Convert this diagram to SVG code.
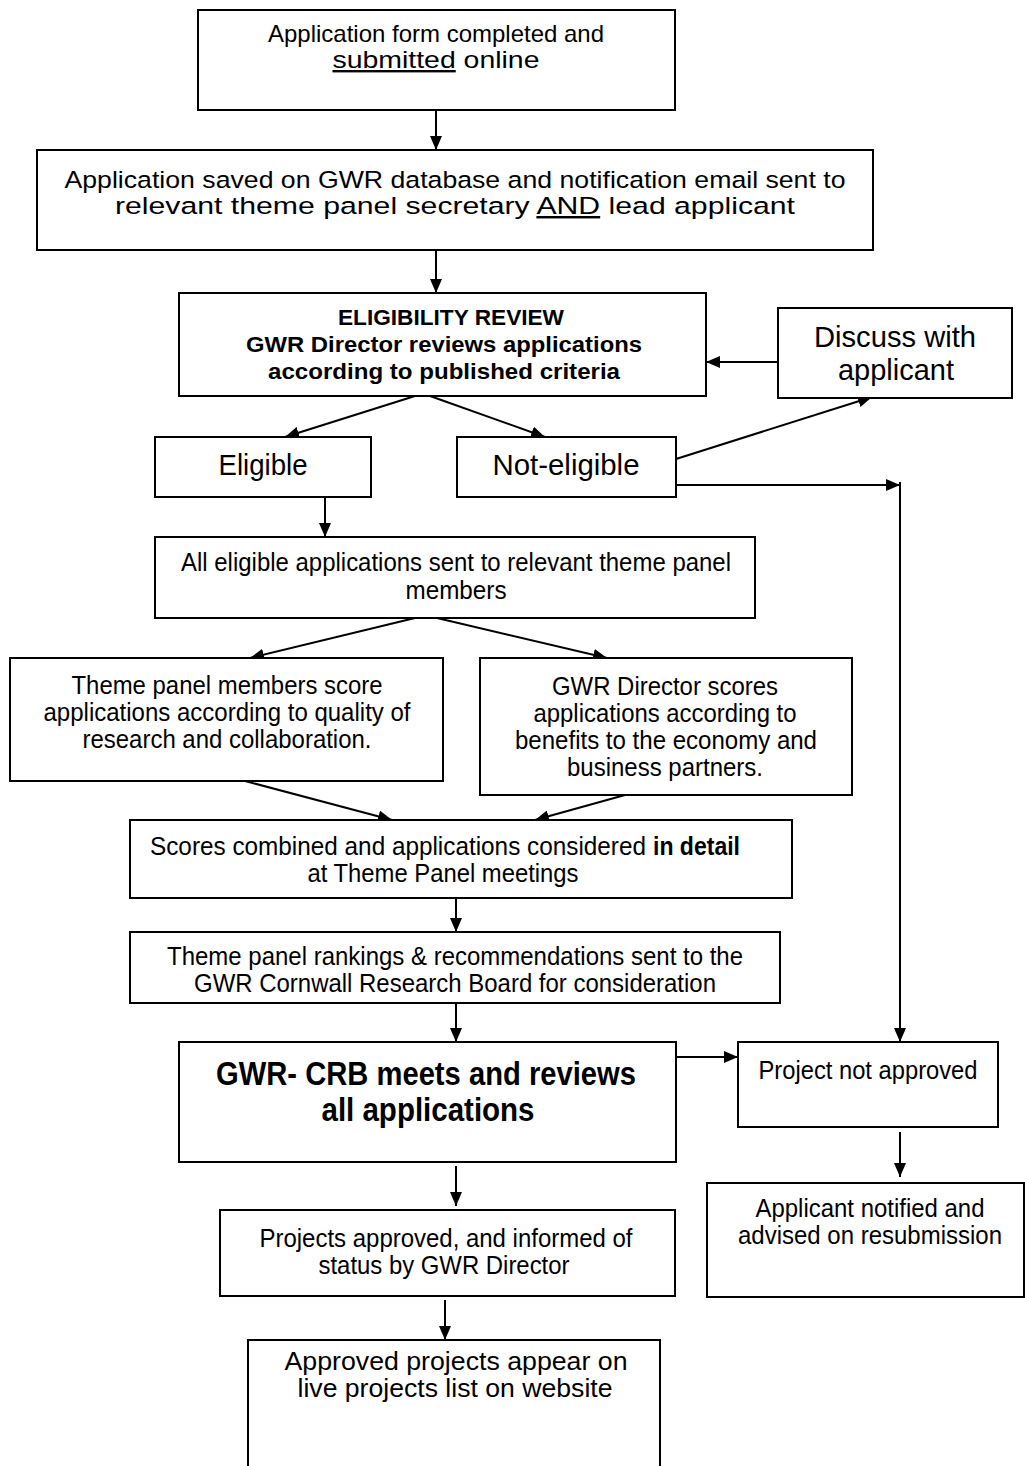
<svg xmlns="http://www.w3.org/2000/svg" width="1025" height="1466" viewBox="0 0 1025 1466">
<style>
.box{fill:#fff;stroke:#000;stroke-width:2}
.t{font-family:"Liberation Sans",Arial,sans-serif;fill:#000;text-anchor:middle}
.s{font-family:"Liberation Sans",Arial,sans-serif;fill:#000;text-anchor:start}
.b{font-weight:bold}
.c{stroke:#000;stroke-width:2;fill:none;marker-end:url(#ah)}
</style>
<defs>
<marker id="ah" viewBox="0 0 14 12" refX="14" refY="6" markerWidth="14" markerHeight="12" markerUnits="userSpaceOnUse" orient="auto"><path d="M0,0 L14,6 L0,12 z" fill="#000"/></marker>
</defs>
<rect width="1025" height="1466" fill="#fff"/>
<g id="connectors">
<path class="c" d="M436,110 L436,150"/>
<path class="c" d="M436,250 L436,293"/>
<path class="c" d="M778,362 L706,362"/>
<path class="c" d="M415,396 L285,437"/>
<path class="c" d="M430,396 L545,437"/>
<path class="c" d="M676,459 L872,397"/>
<path class="c" d="M676,485 L900,485"/>
<path class="c" d="M900,482 L900,1042"/>
<path class="c" d="M325,497 L325,537"/>
<path class="c" d="M415,618 L250,658"/>
<path class="c" d="M437,618 L607,658"/>
<path class="c" d="M245,781 L392,820"/>
<path class="c" d="M625,795 L535,820"/>
<path class="c" d="M456,886 L456,932"/>
<path class="c" d="M456,1003 L456,1042"/>
<path class="c" d="M676,1057 L738,1057"/>
<path class="c" d="M900,1132 L900,1177"/>
<path class="c" d="M456,1166 L456,1206"/>
<path class="c" d="M445,1300 L445,1340"/>
</g>
<g id="n1"><rect class="box" x="198" y="10" width="477" height="100"/>
<text class="t" font-size="24" x="436" y="42" textLength="336" lengthAdjust="spacingAndGlyphs">Application form completed and</text>
<text class="t" font-size="24" x="436" y="68" textLength="207" lengthAdjust="spacingAndGlyphs"><tspan text-decoration="underline">submitted</tspan> online</text></g>
<g id="n2"><rect class="box" x="37" y="150" width="836" height="100"/>
<text class="t" font-size="24.5" x="455" y="188" textLength="781" lengthAdjust="spacingAndGlyphs">Application saved on GWR database and notification email sent to</text>
<text class="t" font-size="24.5" x="455" y="214" textLength="680" lengthAdjust="spacingAndGlyphs">relevant theme panel secretary <tspan text-decoration="underline">AND</tspan> lead applicant</text></g>
<g id="n3"><rect class="box" x="179" y="293" width="527" height="103"/>
<text class="t b" font-size="22" x="451" y="325" textLength="226" lengthAdjust="spacingAndGlyphs">ELIGIBILITY REVIEW</text>
<text class="t b" font-size="22" x="444" y="352" textLength="396" lengthAdjust="spacingAndGlyphs">GWR Director reviews applications</text>
<text class="t b" font-size="22" x="444" y="379" textLength="352" lengthAdjust="spacingAndGlyphs">according to published criteria</text></g>
<g id="n4"><rect class="box" x="778" y="308" width="234" height="90"/>
<text class="t" font-size="29" x="895" y="347" textLength="162" lengthAdjust="spacingAndGlyphs">Discuss with</text>
<text class="t" font-size="29" x="896" y="380" textLength="116" lengthAdjust="spacingAndGlyphs">applicant</text></g>
<g id="n5"><rect class="box" x="155" y="437" width="216" height="60"/>
<text class="t" font-size="29" x="263" y="475" textLength="89" lengthAdjust="spacingAndGlyphs">Eligible</text></g>
<g id="n6"><rect class="box" x="457" y="437" width="219" height="60"/>
<text class="t" font-size="29" x="566" y="475" textLength="147" lengthAdjust="spacingAndGlyphs">Not-eligible</text></g>
<g id="n7"><rect class="box" x="155" y="537" width="600" height="81"/>
<text class="t" font-size="25" x="456" y="571" textLength="550" lengthAdjust="spacingAndGlyphs">All eligible applications sent to relevant theme panel</text>
<text class="t" font-size="25" x="456" y="599" textLength="101" lengthAdjust="spacingAndGlyphs">members</text></g>
<g id="n8"><rect class="box" x="10" y="658" width="433" height="123"/>
<text class="t" font-size="25" x="227" y="694" textLength="311" lengthAdjust="spacingAndGlyphs">Theme panel members score</text>
<text class="t" font-size="25" x="227" y="721" textLength="367" lengthAdjust="spacingAndGlyphs">applications according to quality of</text>
<text class="t" font-size="25" x="227" y="748" textLength="289" lengthAdjust="spacingAndGlyphs">research and collaboration.</text></g>
<g id="n9"><rect class="box" x="480" y="658" width="372" height="137"/>
<text class="t" font-size="25" x="665" y="695" textLength="226" lengthAdjust="spacingAndGlyphs">GWR Director scores</text>
<text class="t" font-size="25" x="665" y="722" textLength="263" lengthAdjust="spacingAndGlyphs">applications according to</text>
<text class="t" font-size="25" x="666" y="749" textLength="302" lengthAdjust="spacingAndGlyphs">benefits to the economy and</text>
<text class="t" font-size="25" x="665" y="776" textLength="196" lengthAdjust="spacingAndGlyphs">business partners.</text></g>
<g id="n10"><rect class="box" x="130" y="820" width="662" height="78"/>
<text class="s" font-size="25" x="150" y="855" textLength="496" lengthAdjust="spacingAndGlyphs">Scores combined and applications considered</text>
<text class="s b" font-size="25" x="653" y="855" textLength="87" lengthAdjust="spacingAndGlyphs">in detail</text>
<text class="t" font-size="25" x="443" y="882" textLength="271" lengthAdjust="spacingAndGlyphs">at Theme Panel meetings</text></g>
<g id="n11"><rect class="box" x="130" y="932" width="650" height="71"/>
<text class="t" font-size="25" x="455" y="965" textLength="576" lengthAdjust="spacingAndGlyphs">Theme panel rankings &amp; recommendations sent to the</text>
<text class="t" font-size="25" x="455" y="992" textLength="522" lengthAdjust="spacingAndGlyphs">GWR Cornwall Research Board for consideration</text></g>
<g id="n12"><rect class="box" x="179" y="1042" width="497" height="120"/>
<text class="t b" font-size="33" x="426" y="1085" textLength="420" lengthAdjust="spacingAndGlyphs">GWR- CRB meets and reviews</text>
<text class="t b" font-size="33" x="428" y="1121" textLength="213" lengthAdjust="spacingAndGlyphs">all applications</text></g>
<g id="n13"><rect class="box" x="738" y="1042" width="260" height="85"/>
<text class="t" font-size="25" x="868" y="1079" textLength="219" lengthAdjust="spacingAndGlyphs">Project not approved</text></g>
<g id="n14"><rect class="box" x="707" y="1183" width="317" height="114"/>
<text class="t" font-size="25" x="870" y="1217" textLength="229" lengthAdjust="spacingAndGlyphs">Applicant notified and</text>
<text class="t" font-size="25" x="870" y="1244" textLength="264" lengthAdjust="spacingAndGlyphs">advised on resubmission</text></g>
<g id="n15"><rect class="box" x="220" y="1210" width="455" height="86"/>
<text class="t" font-size="25" x="446" y="1247" textLength="373" lengthAdjust="spacingAndGlyphs">Projects approved, and informed of</text>
<text class="t" font-size="25" x="444" y="1274" textLength="251" lengthAdjust="spacingAndGlyphs">status by GWR Director</text></g>
<g id="n16"><rect class="box" x="248" y="1340" width="412" height="140"/>
<text class="t" font-size="25" x="456" y="1370" textLength="343" lengthAdjust="spacingAndGlyphs">Approved projects appear on</text>
<text class="t" font-size="25" x="455" y="1397" textLength="315" lengthAdjust="spacingAndGlyphs">live projects list on website</text></g>
</svg>
